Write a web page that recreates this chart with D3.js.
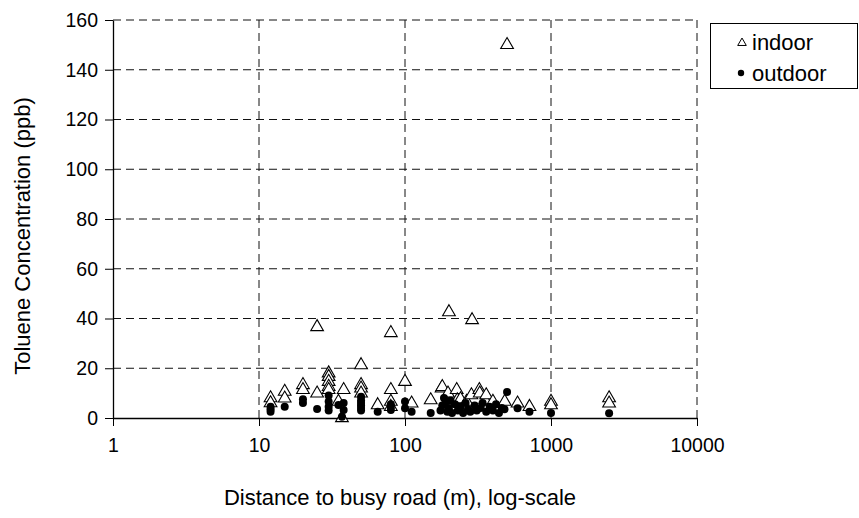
<!DOCTYPE html>
<html><head><meta charset="utf-8">
<script src="https://cdn.jsdelivr.net/npm/d3@7"></script>
<style>body{margin:0;background:#fff}svg{display:block}text{font-family:"Liberation Sans",Arial,sans-serif}</style>
</head><body><svg id="c" width="859" height="518"></svg>
<script>
const xTicks = [1, 10, 100, 1000, 10000];
const xTickLabels = ["1", "10", "100", "1000", "10000"];
const yTicks = [0, 20, 40, 60, 80, 100, 120, 140, 160];
const seriesNames = ["indoor", "outdoor"];
const indoorDist = [12,12,15,15,20,20,25,25,30,30,30,30,30,35,37,38,50,50,50,50,65,80,80,80,80,100,111,150,178,180,197,200,226,228,240,264,285,288,323,325,354,360,400,482,500,590,712,1000,1000,2500,2500];
const indoorVal  = [8,6,10.6,7.9,13.3,11.3,9.9,36.6,18,16.6,14.6,12.6,11.3,6.6,0,11.3,21.3,13.3,11.9,9.9,5.2,34.2,11.3,6.6,4.5,14.6,5.9,7.2,11.9,12.5,9.9,42.6,11.3,7.2,7.6,6.6,9.2,39.4,11.3,9.9,7.2,9.2,6.6,6.6,150,5.9,4.5,6.6,5.2,8,5.9];
const outdoorDist = [12,12,12,15,20,20,25,30,30,30,30,35,37,38,38,50,50,50,50,50,50,65,80,80,80,100,100,111,150,175,180,185,190,195,200,205,210,220,230,240,250,260,270,280,300,310,330,340,360,380,400,420,440,460,480,500,590,712,1000,2500];
const outdoorVal  = [4.5,3.5,2.5,4.5,7.5,6,3.6,9,6.6,4.5,3,5.2,0.5,6,3.2,8.5,7,6,5,4,3,2.5,5.5,4.5,3.2,6.6,3.9,2.5,2,3,5,8,6.5,2.5,4,7,2,5.5,3,4.5,2,6,3.5,2.5,5,3,4,6,2.5,4.5,3,5.5,2,4,3.5,10.5,3.9,2.5,2,1.9];

const svg = d3.select("#c");
const L = 113, R = 697, T = 20, B = 418;
const x = d3.scaleLog().domain([1, 10000]).range([L, R]);
const y = d3.scaleLinear().domain([0, 160]).range([B, T]);

// gridlines
const g = svg.append("g");
g.selectAll(".hg").data(yTicks.filter(d => d > 0)).join("line")
  .attr("x1", L).attr("x2", R).attr("y1", d => y(d)).attr("y2", d => y(d))
  .attr("stroke", "#111").attr("stroke-dasharray", "8,5").attr("stroke-width", 1);
g.selectAll(".vg").data(xTicks.filter(d => d > 1)).join("line")
  .attr("x1", d => x(d)).attr("x2", d => x(d)).attr("y1", T).attr("y2", B)
  .attr("stroke", "#111").attr("stroke-dasharray", "8,5").attr("stroke-width", 1);

// axes
const yAxis = svg.append("g").attr("transform", `translate(${L},0)`)
  .call(d3.axisLeft(y).tickValues(yTicks).tickSize(8).tickPadding(7).tickSizeOuter(0));
const xAxis = svg.append("g").attr("transform", `translate(0,${B})`)
  .call(d3.axisBottom(x).tickValues(xTicks).tickFormat((d, i) => xTickLabels[i]).tickSize(8).tickPadding(12).tickSizeOuter(0));
[yAxis, xAxis].forEach(a => {
  a.select(".domain").attr("stroke", "#000").attr("stroke-width", 1.3);
  a.selectAll(".tick line").attr("stroke", "#000");
  a.selectAll("text").attr("font-size", 19.5).attr("fill", "#000").style("font-family", '"Liberation Sans", Arial, sans-serif');
});

// titles
svg.append("text").attr("x", (L + R) / 2 - 5).attr("y", 505).attr("text-anchor", "middle")
  .attr("font-size", 22).text("Distance to busy road (m), log-scale");
svg.append("text").attr("transform", `translate(30,${(T + B) / 2 + 17}) rotate(-90)`).attr("text-anchor", "middle")
  .attr("font-size", 22).text("Toluene Concentration (ppb)");

// markers
const tri = d3.symbol().type(d3.symbolTriangle).size(70);
const indoor = indoorDist.map((d, i) => ({d, v: indoorVal[i]}));
const outdoor = outdoorDist.map((d, i) => ({d, v: outdoorVal[i]}));
svg.append("g").selectAll("path").data(indoor).join("path")
  .attr("d", tri).attr("transform", p => `translate(${x(p.d)},${y(p.v)})`)
  .attr("fill", "#fff").attr("stroke", "#000").attr("stroke-width", 1.1);
svg.append("g").selectAll("circle").data(outdoor).join("circle")
  .attr("cx", p => x(p.d)).attr("cy", p => y(p.v)).attr("r", 4).attr("fill", "#000");

// legend
const lg = svg.append("g");
lg.append("rect").attr("x", 710.5).attr("y", 23.5).attr("width", 147).attr("height", 65)
  .attr("fill", "#fff").attr("stroke", "#000");
lg.append("path").attr("d", d3.symbol().type(d3.symbolTriangle).size(32))
  .attr("transform", "translate(742,43)").attr("fill", "#fff").attr("stroke", "#000");
lg.append("circle").attr("cx", 741).attr("cy", 73).attr("r", 3.2).attr("fill", "#000");
lg.append("text").attr("x", 752).attr("y", 50).attr("font-size", 22).text(seriesNames[0]);
lg.append("text").attr("x", 752).attr("y", 81).attr("font-size", 22).text(seriesNames[1]);
</script></body></html>
